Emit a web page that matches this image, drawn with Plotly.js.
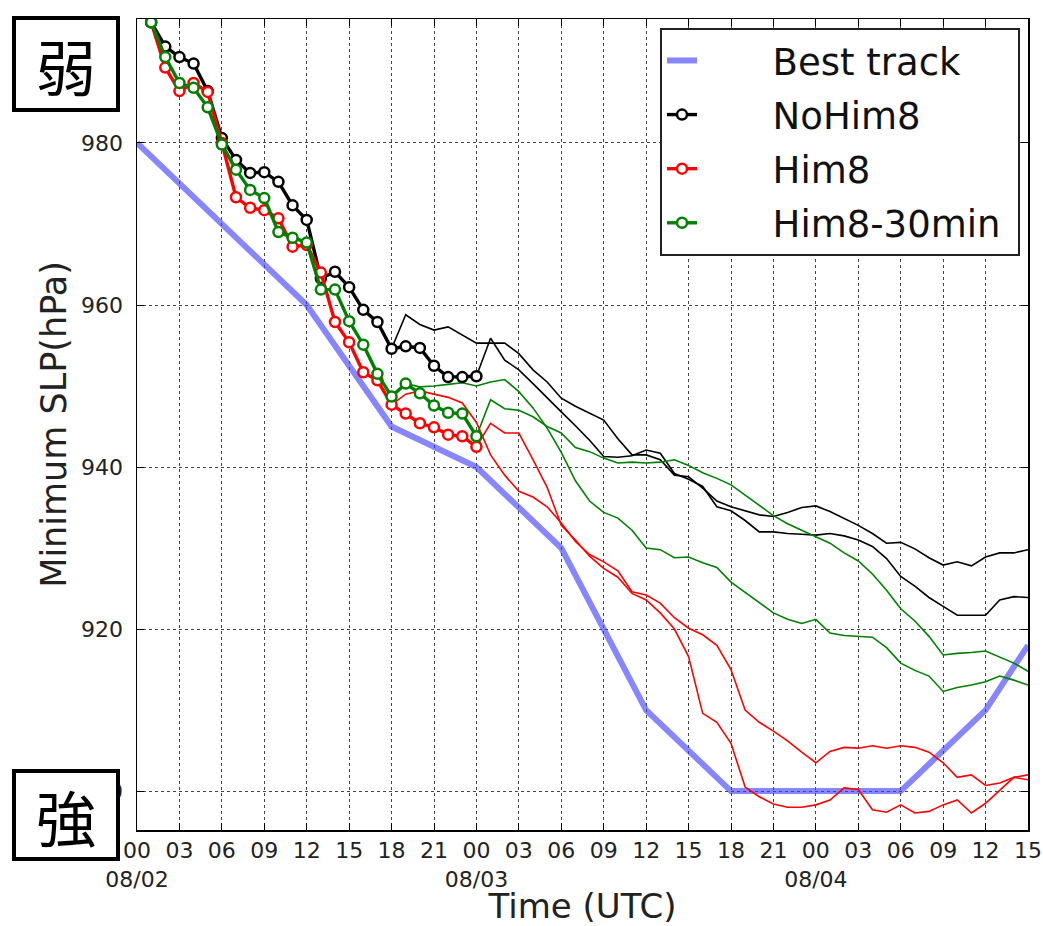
<!DOCTYPE html>
<html>
<head>
<meta charset="utf-8">
<script src="https://cdn.plot.ly/plotly-3.0.1.min.js"></script>
<style>html,body{margin:0;padding:0;background:#fff;}</style>
</head>
<body>
<div id="chart" style="width:1043px;height:926px;"></div>
<script>
// ---- Data (hours since 2015-08-02 00 UTC, minimum SLP in hPa) ----
const bestHours = [0, 6, 12, 18, 24, 30, 36, 42, 48, 54, 60, 63];
const bestTrack = [980, 970, 960, 945, 940, 930, 910, 900, 900, 900, 910, 918];

const cycleHours = [0,1,2,3,4,5,6,7,8,9,10,11,12,13,14,15,16,17,18,19,20,21,22,23,24];
const noHim8 = [997.2, 994.9, 991.9, 990.6, 989.8, 986.4, 980.6, 977.9, 976.3, 976.4, 975.2, 972.3, 970.5, 963.3, 964.1, 962.2, 959.4, 957.9, 954.6, 954.9, 954.7, 952.5, 951.1, 951.1, 951.2];
const him8 = [997.2, 994.9, 989.3, 986.4, 987.4, 986.3, 980.0, 973.3, 972.0, 971.7, 970.7, 967.2, 967.4, 964.0, 957.9, 955.4, 951.7, 950.7, 947.7, 946.6, 945.4, 944.9, 944.0, 943.8, 942.5];
const him8_30min = [997.2, 994.9, 990.6, 987.4, 986.8, 984.4, 979.8, 976.7, 974.2, 973.2, 969.0, 968.3, 967.7, 961.9, 961.9, 958.0, 955.1, 951.5, 948.7, 950.3, 949.1, 947.6, 946.7, 946.6, 943.8];

// forecasts initialised at 18 UTC 08/02
const fcst18Hours = [18,19,20,21,22,23,24,25,26,27,28,29,30,31,32,33,34,35,36,37,38,39,40,41,42,43,44,45,46,47,48,49,50,51,52,53,54,55,56,57,58,59,60,61,62,63];
const noHim8_fc18 = [954.6, 958.8, 957.6, 956.9, 957.3, 956.3, 955.3, 955.3, 955.3, 954.0, 952.0, 950.5, 948.5, 947.5, 946.6, 945.8, 943.5, 941.5, 941.5, 940.9, 939.0, 938.8, 937.4, 935.8, 935.1, 934.6, 934.1, 933.9, 934.4, 935.0, 935.2, 934.5, 933.7, 932.8, 931.8, 930.6, 930.7, 929.9, 928.8, 927.9, 928.3, 927.8, 928.9, 929.4, 929.4, 929.8];
const him8_fc18 = [947.7, 949.0, 949.4, 949.0, 948.6, 947.9, 945.5, 941.5, 939.0, 937.0, 936.3, 935.1, 933.1, 930.8, 929.2, 928.3, 927.2, 924.6, 924.2, 923.2, 921.4, 920.1, 919.3, 918.0, 915.0, 910.0, 908.5, 907.4, 906.2, 904.8, 903.5, 904.9, 905.4, 905.3, 905.6, 905.3, 905.6, 905.4, 904.8, 903.5, 901.7, 902.0, 900.7, 901.0, 901.7, 901.4];
const him8_30min_fc18 = [948.7, 950.3, 949.9, 950.0, 950.2, 950.4, 950.0, 950.5, 950.8, 949.3, 947.3, 944.8, 941.8, 938.3, 935.8, 934.4, 933.7, 932.2, 930.0, 929.8, 928.8, 928.9, 928.2, 927.6, 925.8, 924.5, 923.2, 922.0, 921.2, 920.7, 921.2, 919.5, 919.2, 919.1, 919.0, 917.7, 915.8, 914.9, 914.2, 912.3, 912.8, 913.1, 913.5, 914.2, 913.7, 913.1];

// forecasts initialised at 00 UTC 08/03
const fcst24Hours = [24,25,26,27,28,29,30,31,32,33,34,35,36,37,38,39,40,41,42,43,44,45,46,47,48,49,50,51,52,53,54,55,56,57,58,59,60,61,62,63];
const noHim8_fc24 = [951.2, 955.9, 953.2, 952.0, 950.3, 948.5, 946.8, 945.1, 943.3, 941.3, 941.2, 941.4, 942.1, 941.7, 939.2, 938.5, 937.6, 935.1, 934.6, 933.4, 932.0, 932.0, 931.8, 931.7, 931.6, 931.8, 931.5, 931.0, 930.2, 928.7, 926.5, 925.3, 923.9, 922.8, 921.7, 921.7, 921.7, 923.6, 924.0, 923.9];
const him8_fc24 = [942.5, 945.4, 944.2, 944.2, 940.9, 937.5, 932.8, 931.0, 929.0, 927.5, 926.4, 924.4, 923.6, 922.0, 920.0, 916.6, 909.6, 908.5, 905.9, 900.5, 899.3, 898.4, 898.0, 898.0, 898.3, 898.9, 900.4, 900.2, 897.7, 897.4, 898.3, 897.3, 897.5, 898.3, 898.9, 897.3, 898.5, 900.1, 901.7, 902.0];
const him8_30min_fc24 = [943.8, 948.3, 947.2, 947.0, 946.2, 945.0, 944.2, 942.4, 941.9, 941.1, 940.5, 940.6, 940.5, 940.6, 940.9, 940.2, 939.3, 938.6, 937.8, 936.5, 935.3, 934.0, 933.0, 932.2, 931.4, 930.6, 929.4, 928.4, 926.8, 924.8, 922.5, 921.0, 919.1, 916.8, 917.0, 917.1, 917.3, 916.5, 915.8, 914.8];

const tickHours = [0,3,6,9,12,15,18,21,24,27,30,33,36,39,42,45,48,51,54,57,60,63];
const tickLabels = ['00<br>08/02','03','06','09','12','15','18','21','00<br>08/03','03','06','09','12','15','18','21','00<br>08/04','03','06','09','12','15'];
const yTicks = [900, 920, 940, 960, 980];
const seriesNames = ['Best track', 'NoHim8', 'Him8', 'Him8-30min'];

const BLACK = '#000000', RED = '#ff0000', GREEN = '#008000', BLUE = 'rgba(60,60,255,0.62)';
const PAD = '\u00A0\u00A0\u00A0\u00A0\u00A0\u00A0';

function thin(x, y, color) {
  return {x: x, y: y, type: 'scatter', mode: 'lines', showlegend: false,
          line: {color: color, width: 1.6}, hoverinfo: 'skip'};
}
function cyc(x, y, color, name, grp) {
  return {x: x, y: y, type: 'scatter', mode: 'lines+markers', name: PAD + name + '\u00A0', legendgroup: grp,
          line: {color: color, width: 3.4},
          marker: {symbol: 'circle', size: 10, color: '#ffffff', line: {color: color, width: 2.5}}};
}

const traces = [
  {x: bestHours, y: bestTrack, type: 'scatter', mode: 'lines', name: PAD + seriesNames[0], legendgroup: 'a',
   line: {color: BLUE, width: 6}},
  thin(fcst18Hours, noHim8_fc18, BLACK),
  thin(fcst24Hours, noHim8_fc24, BLACK),
  thin(fcst18Hours, him8_fc18, RED),
  thin(fcst24Hours, him8_fc24, RED),
  thin(fcst18Hours, him8_30min_fc18, GREEN),
  thin(fcst24Hours, him8_30min_fc24, GREEN),
  cyc(cycleHours, noHim8, BLACK, seriesNames[1], 'b'),
  cyc(cycleHours, him8, RED, seriesNames[2], 'c'),
  cyc(cycleHours, him8_30min, GREEN, seriesNames[3], 'd')
];

const FONT = 'DejaVu Sans, sans-serif';
const layout = {
  width: 1043, height: 926,
  margin: {l: 137, r: 15, t: 19, b: 96},
  paper_bgcolor: '#ffffff', plot_bgcolor: '#ffffff',
  font: {family: FONT, color: '#000'},
  xaxis: {
    range: [0, 63], tickmode: 'array', tickvals: tickHours, ticktext: tickLabels, tickangle: 0,
    tickfont: {size: 22, family: FONT, color: '#222'},
    ticks: 'inside', ticklen: 7, tickwidth: 1, tickcolor: '#000',
    showline: true, linecolor: '#000', linewidth: 1.5, mirror: 'allticks',
    showgrid: true, gridcolor: '#444', griddash: 'dot', gridwidth: 1,
    zeroline: false,
    title: {text: 'Time (UTC)', font: {size: 34, family: FONT, color: '#222'}, standoff: 4}
  },
  yaxis: {
    range: [895.2, 995.3], tickmode: 'array', tickvals: yTicks,
    tickfont: {size: 22, family: FONT, color: '#222'},
    ticks: 'inside', ticklen: 7, tickwidth: 1, tickcolor: '#000',
    showline: true, linecolor: '#000', linewidth: 1.5, mirror: 'allticks',
    showgrid: true, gridcolor: '#444', griddash: 'dot', gridwidth: 1,
    zeroline: false, ticklabelstandoff: 8,
    title: {text: 'Minimum SLP(hPa)', font: {size: 35, family: FONT, color: '#222'}, standoff: 4}
  },
  legend: {
    x: 0.587, y: 0.989, xanchor: 'left', yanchor: 'top',
    bgcolor: '#ffffff', bordercolor: '#222', borderwidth: 2,
    font: {size: 37, family: FONT, color: '#111'},
    tracegroupgap: 3
  },
  annotations: [
    {xref: 'paper', yref: 'paper', x: -0.0797, y: 0.9445, xanchor: 'center', yanchor: 'middle',
     text: '弱', showarrow: false, font: {size: 60, family: 'Noto Sans CJK JP', color: '#000'},
     bgcolor: '#ffffff', bordercolor: '#000', borderwidth: 4, borderpad: 0, width: 100, height: 88},
    {xref: 'paper', yref: 'paper', x: -0.0797, y: 0.0185, xanchor: 'center', yanchor: 'middle',
     text: '強', showarrow: false, font: {size: 60, family: 'Noto Sans CJK JP', color: '#000'},
     bgcolor: '#ffffff', bordercolor: '#000', borderwidth: 4, borderpad: 0, width: 100, height: 84}
  ]
};

Plotly.newPlot('chart', traces, layout, {displayModeBar: false, staticPlot: true});
</script>
</body>
</html>
